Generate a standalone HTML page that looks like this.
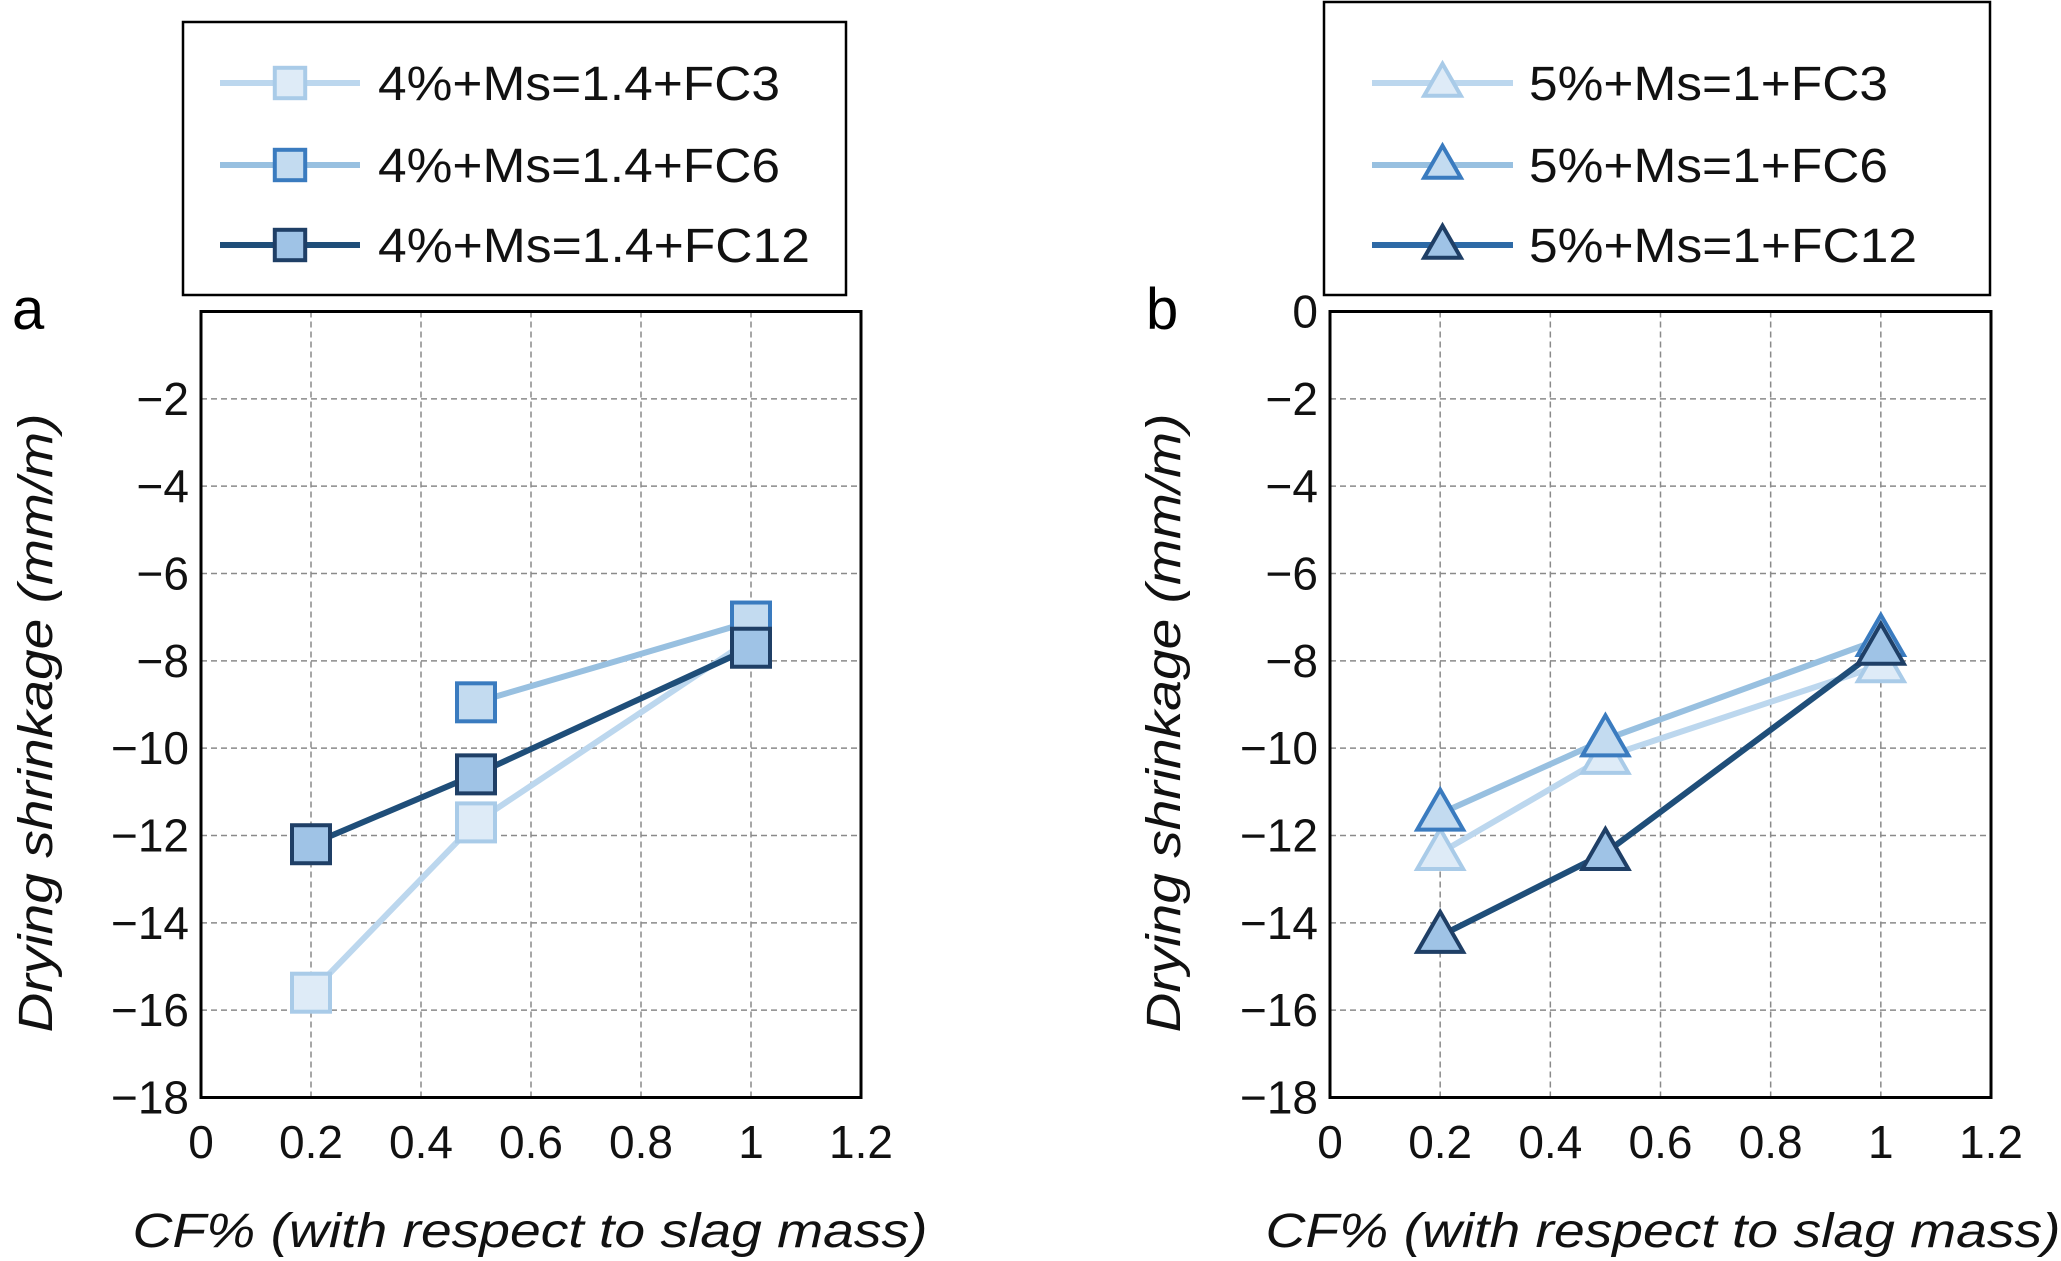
<!DOCTYPE html>
<html><head><meta charset="utf-8"><style>
html,body{margin:0;padding:0;background:#fff;}
svg{display:block;font-family:"Liberation Sans",Arial,sans-serif;}
</style></head><body>
<svg id="chart" width="2061" height="1261" viewBox="0 0 2061 1261"></svg>
<script>
const xTicks = [0, 0.2, 0.4, 0.6, 0.8, 1, 1.2];
const xTickLabels = ["0", "0.2", "0.4", "0.6", "0.8", "1", "1.2"];
const yTicks = [0, -2, -4, -6, -8, -10, -12, -14, -16, -18];
const cfA = [0.2, 0.5, 1];
const a_FC3 = [-15.6, -11.7, -7.5];
const a_FC6x = [0.5, 1];
const a_FC6 = [-8.95, -7.1];
const a_FC12 = [-12.2, -10.6, -7.7];
const cfB = [0.2, 0.5, 1];
const b_FC3 = [-12.4, -10.2, -8.1];
const b_FC6 = [-11.5, -9.8, -7.5];
const b_FC12 = [-14.3, -12.4, -7.7];
const legendA = ["4%+Ms=1.4+FC3", "4%+Ms=1.4+FC6", "4%+Ms=1.4+FC12"];
const legendB = ["5%+Ms=1+FC3", "5%+Ms=1+FC6", "5%+Ms=1+FC12"];

const NS = "http://www.w3.org/2000/svg";
const svg = document.getElementById("chart");
function mk(tag, attrs, parent) {
  const e = document.createElementNS(NS, tag);
  for (const k in attrs) e.setAttribute(k, attrs[k]);
  (parent || svg).appendChild(e);
  return e;
}
const styles = [
  {line:"#bcd7ee", fill:"#deebf7", stroke:"#a9cbe8"},
  {line:"#98c0e0", fill:"#c3dbf0", stroke:"#3a7bbf"},
  {line:"#1f4e79", fill:"#9fc3e6", stroke:"#1f3f66"}
];

function panel(id, L, R, T, B, showZero, series, legend, legWidths, legBox, legLine, legText, letter, letterX, yTitleX, xTitleX, shape, legendLineColors) {
  const g = mk("g", {});
  
  
  const sx = v => L + (v - 0) / 1.2 * (R - L);
  const sy = v => T + (0 - v) / 18 * (B - T);
  xTicks.forEach((t, i) => {
    if (i > 0 && i < xTicks.length - 1) {
      const l = mk("line", {x1:sx(t), x2:sx(t), y1:T, y2:B, stroke:"#8a8a8a", "stroke-width":1.5, "stroke-dasharray":"6,4"}, g);
      
      
    }
    const tx = mk("text", {x:sx(t), y:1158, "font-size":46, "text-anchor":"middle", fill:"#111"}, g);
    tx.textContent = xTickLabels[i];
    
    
  });
  yTicks.forEach((t, i) => {
    if (t !== 0 && t !== -18) {
      const l = mk("line", {x1:L, x2:R, y1:sy(t), y2:sy(t), stroke:"#8a8a8a", "stroke-width":1.5, "stroke-dasharray":"6,4"}, g);
      
      
    }
    if (t === 0 && !showZero) return;
    const tx = mk("text", {x:L - 12, y:sy(t) + 16, "font-size":46, "text-anchor":"end", fill:"#111"}, g);
    tx.textContent = t === 0 ? "0" : "\u2212" + Math.abs(t);
    
    
  });
  const fr = mk("rect", {x:L, y:T, width:R-L, height:B-T, fill:"none", stroke:"#000", "stroke-width":3}, g);
  
  
  series.forEach((s, si) => {
    const st = styles[si];
    const pts = s.x.map((x, i) => sx(x) + "," + sy(s.y[i])).join(" ");
    const pl = mk("polyline", {points:pts, fill:"none", stroke:st.line, "stroke-width":6}, g);
    
    
  });
  series.forEach((s, si) => {
    const st = styles[si];
    s.x.forEach((x, i) => {
      const m = marker(g, sx(x), sy(s.y[i]), st.fill, st.stroke, shape);
      
      
    });
  });
  const lb = mk("rect", {x:legBox[0], y:legBox[1], width:legBox[2]-legBox[0], height:legBox[3]-legBox[1], fill:"#fff", stroke:"#000", "stroke-width":2.5}, g);
  
  
  [83, 165, 245].forEach((yy, i) => {
    const st = styles[i];
    const ll = mk("line", {x1:legLine[0], x2:legLine[1], y1:yy, y2:yy, stroke:legendLineColors[i], "stroke-width":6}, g);
    
    
    const m = marker(g, (legLine[0]+legLine[1])/2, yy, st.fill, st.stroke, shape, 0.8);
    
    
    const tx = mk("text", {x:legText, y:yy + 17, "font-size":48, fill:"#111", textLength:legWidths[i], lengthAdjust:"spacingAndGlyphs"}, g);
    tx.textContent = legend[i];
    
    
  });
  const lt = mk("text", {x:letterX, y:329, "font-size":58, fill:"#000"}, g);
  lt.textContent = letter;
  
  
  const yt = mk("text", {x:0, y:0, "font-size":48, "font-style":"italic", "text-anchor":"middle", fill:"#111", transform:"translate(" + yTitleX + ",723) rotate(-90)", textLength:619, lengthAdjust:"spacingAndGlyphs"}, g);
  yt.textContent = "Drying shrinkage (mm/m)";
  
  
  const xt = mk("text", {x:xTitleX, y:1247, "font-size":48, "font-style":"italic", "text-anchor":"middle", fill:"#111", textLength:795, lengthAdjust:"spacingAndGlyphs"}, g);
  xt.textContent = "CF% (with respect to slag mass)";
  
  
}
function marker(g, cx, cy, fill, stroke, shape, sc) {
  sc = sc || 1;
  if (shape === "square") {
    const h = 19 * sc;
    return mk("rect", {x:cx-h, y:cy-h, width:2*h, height:2*h, fill:fill, stroke:stroke, "stroke-width":4}, g);
  }
  const w = 23 * sc, hh = 40 * sc;
  return mk("polygon", {points:(cx)+","+(cy-hh*0.6)+" "+(cx+w)+","+(cy+hh*0.4)+" "+(cx-w)+","+(cy+hh*0.4), fill:fill, stroke:stroke, "stroke-width":4, "stroke-linejoin":"miter"}, g);
}
panel("a", 201, 861, 311.5, 1097.5, false,
  [{x:cfA, y:a_FC3}, {x:a_FC6x, y:a_FC6}, {x:cfA, y:a_FC12}],
  legendA, [402, 402, 432], [183, 22, 846, 295], [220, 360], 378, "a", 12, 52, 530, "square",
  ["#bcd7ee", "#98c0e0", "#1f4e79"]);
panel("b", 1330, 1991, 311.5, 1097.5, true,
  [{x:cfB, y:b_FC3}, {x:cfB, y:b_FC6}, {x:cfB, y:b_FC12}],
  legendB, [359, 359, 388], [1324, 2, 1990, 295], [1372, 1513], 1529, "b", 1146, 1180, 1663, "triangle",
  ["#bcd7ee", "#98c0e0", "#2e6aa6"]);
</script>
</body></html>
